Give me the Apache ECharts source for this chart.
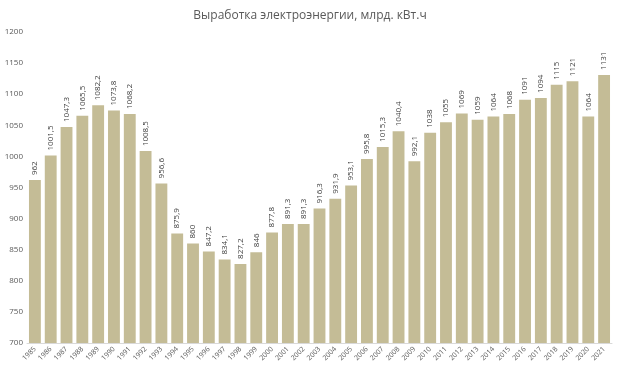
<!DOCTYPE html>
<html><head><meta charset="utf-8">
<script src="https://cdn.jsdelivr.net/npm/echarts@6/dist/echarts.min.js"></script>
<style>html,body{margin:0;padding:0;background:#fff}#c{width:620px;height:375px}</style>
</head><body><div id="c"></div>
<script>
const years = ['1985','1986','1987','1988','1989','1990','1991','1992','1993','1994','1995','1996','1997','1998','1999','2000','2001','2002','2003','2004','2005','2006','2007','2008','2009','2010','2011','2012','2013','2014','2015','2016','2017','2018','2019','2020','2021'];
const production = [962,1001.5,1047.3,1065.5,1082.2,1073.8,1068.2,1008.5,956.6,875.9,860,847.2,834.1,827.2,846,877.8,891.3,891.3,916.3,931.9,953.1,995.8,1015.3,1040.4,992.1,1038,1055,1069,1059,1064,1068,1091,1094,1115,1121,1064,1131];
const titleText = 'Выработка электроэнергии, млрд. кВт.ч';

const chart = echarts.init(document.getElementById('c'));
chart.setOption({
  animation: false,
  backgroundColor: '#ffffff',
  textStyle: {fontFamily: 'Open Sans, Liberation Sans, sans-serif'},
  title: {text: titleText, left: 'center', top: 5,
    textStyle: {fontSize: 12, fontWeight: 'normal', color: '#595959', fontFamily: 'Open Sans, sans-serif'}},
  grid: {left: 27, right: 8, top: 32, bottom: 32, containLabel: false},
  xAxis: {type: 'category', data: years,
    axisLine: {lineStyle: {color: '#d9d9d9'}}, axisTick: {show: false},
    axisLabel: {rotate: 45, fontSize: 7, color: '#595959', interval: 0, margin: 5}},
  yAxis: {type: 'value', min: 700, max: 1200, interval: 50,
    axisLine: {show: false}, axisTick: {show: false}, splitLine: {show: false},
    axisLabel: {fontSize: 8, color: '#595959', margin: 4, formatter: v => String(v)}},
  series: [{type: 'bar', data: production, barCategoryGap: '25%',
    itemStyle: {color: '#c4bc96'},
    label: {show: true, position: 'top', rotate: 90, align: 'left', verticalAlign: 'middle', distance: 5,
      fontSize: 8, color: '#404040',
      formatter: p => String(p.value).replace('.', ',')}}]
});
</script></body></html>
